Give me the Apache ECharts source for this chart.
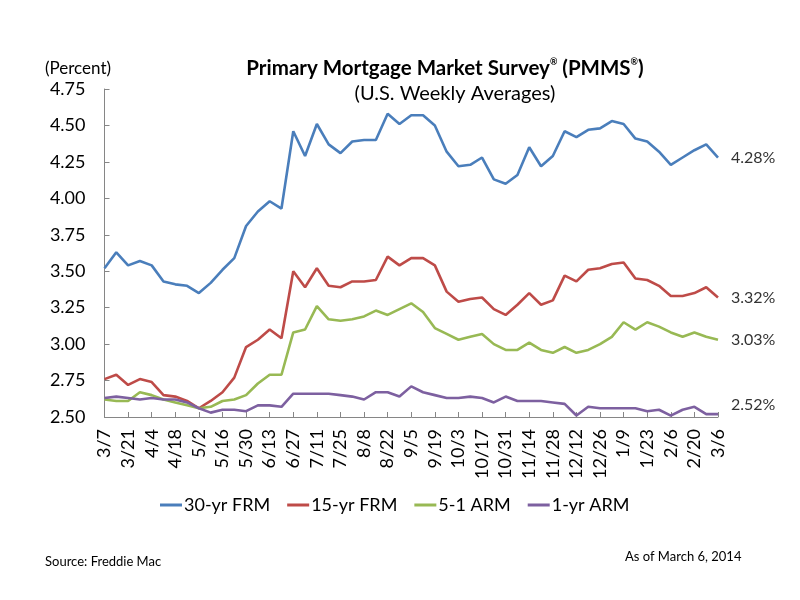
<!DOCTYPE html>
<html>
<head>
<meta charset="utf-8">
<script src="https://cdn.jsdelivr.net/npm/echarts@6/dist/echarts.min.js"></script>
<style>
  html, body { margin: 0; padding: 0; background: #fff; }
  #main { width: 800px; height: 600px; }
</style>
</head>
<body>
<div id="main"></div>
<script>
// weekly dates, 3/7/2013 - 3/6/2014
var weeks = ['3/7','3/14','3/21','3/28','4/4','4/11','4/18','4/25','5/2','5/9',
  '5/16','5/23','5/30','6/6','6/13','6/20','6/27','7/4','7/11','7/18',
  '7/25','8/1','8/8','8/15','8/22','8/29','9/5','9/12','9/19','9/26',
  '10/3','10/10','10/17','10/24','10/31','11/7','11/14','11/21','11/28','12/5',
  '12/12','12/19','12/26','1/2','1/9','1/16','1/23','1/30','2/6','2/13',
  '2/20','2/27','3/6'];

var frm30 = [3.52,3.63,3.54,3.57,3.54,3.43,3.41,3.40,3.35,3.42,
  3.51,3.59,3.81,3.91,3.98,3.93,4.46,4.29,4.51,4.37,
  4.31,4.39,4.40,4.40,4.58,4.51,4.57,4.57,4.50,4.32,
  4.22,4.23,4.28,4.13,4.10,4.16,4.35,4.22,4.29,4.46,
  4.42,4.47,4.48,4.53,4.51,4.41,4.39,4.32,4.23,4.28,
  4.33,4.37,4.28];

var frm15 = [2.76,2.79,2.72,2.76,2.74,2.65,2.64,2.61,2.56,2.61,
  2.67,2.77,2.98,3.03,3.10,3.04,3.50,3.39,3.52,3.40,
  3.39,3.43,3.43,3.44,3.60,3.54,3.59,3.59,3.54,3.36,
  3.29,3.31,3.32,3.24,3.20,3.27,3.35,3.27,3.30,3.47,
  3.43,3.51,3.52,3.55,3.56,3.45,3.44,3.40,3.33,3.33,
  3.35,3.39,3.32];

var arm51 = [2.62,2.61,2.61,2.67,2.65,2.62,2.60,2.58,2.56,2.57,
  2.61,2.62,2.65,2.73,2.79,2.79,3.08,3.10,3.26,3.17,
  3.16,3.17,3.19,3.23,3.20,3.24,3.28,3.22,3.11,3.07,
  3.03,3.05,3.07,3.00,2.96,2.96,3.01,2.96,2.94,2.98,
  2.94,2.96,3.00,3.05,3.15,3.10,3.15,3.12,3.08,3.05,
  3.08,3.05,3.03];

var arm1 = [2.63,2.64,2.63,2.62,2.63,2.62,2.62,2.60,2.56,2.53,
  2.55,2.55,2.54,2.58,2.58,2.57,2.66,2.66,2.66,2.66,
  2.65,2.64,2.62,2.67,2.67,2.64,2.71,2.67,2.65,2.63,
  2.63,2.64,2.63,2.60,2.64,2.61,2.61,2.61,2.60,2.59,
  2.51,2.57,2.56,2.56,2.56,2.56,2.54,2.55,2.51,2.55,
  2.57,2.52,2.52];

var names = ['30-yr FRM','15-yr FRM','5-1 ARM','1-yr ARM'];
var colors = ['#4A7EBB','#BE4B48','#98B954','#7D60A0'];

var font = 'Lato, "Open Sans", sans-serif';

function makeSeries(name, data, color, offset) {
    return {
        name: name,
        type: 'line',
        data: data,
        symbol: 'none',
        lineStyle: { color: color, width: 2.6 },
        itemStyle: { color: color },
        endLabel: {
            show: true,
            distance: 13,
            offset: offset || [0, 0],
            color: '#333',
            fontFamily: font,
            fontSize: 16,
            formatter: function (p) { return p.value.toFixed(2) + '%'; }
        }
    };
}

var myChart = echarts.init(document.getElementById('main'));

var option = {
    animation: false,
    backgroundColor: '#fff',
    color: colors,
    textStyle: { fontFamily: font },
    title: [{
        text: '{b|Primary Mortgage Market Survey}{s|®}{b| (PMMS}{s|®}{b|)}',
        left: 440, top: 53, textAlign: 'center',
        textStyle: {
            rich: {
                b: { fontSize: 20.5, fontWeight: 'bold', color: '#000', fontFamily: font },
                s: { fontSize: 9, color: '#000', fontFamily: font, verticalAlign: 'top', padding: [0, 0, 10, 0] }
            }
        }
    }, {
        text: '(U.S. Weekly Averages)',
        left: 450, top: 79, textAlign: 'center',
        textStyle: { fontSize: 20, fontWeight: 'normal', color: '#000', fontFamily: font }
    }, {
        text: '(Percent)',
        left: 40, top: 55,
        textStyle: { fontSize: 17, fontWeight: 'normal', color: '#000', fontFamily: font }
    }, {
        text: 'Source: Freddie Mac',
        left: 40, top: 550,
        textStyle: { fontSize: 13, fontWeight: 'normal', color: '#000', fontFamily: font }
    }, {
        text: 'As of March 6, 2014',
        left: 620, top: 545,
        textStyle: { fontSize: 13, fontWeight: 'normal', color: '#000', fontFamily: font }
    }],
    legend: {
        data: names,
        left: 155,
        top: 491,
        icon: 'rect',
        itemWidth: 22,
        itemHeight: 3,
        itemGap: 17,
        textStyle: { fontSize: 18, color: '#000', fontFamily: font, padding: [0, 0, 0, -3] }
    },
    grid: { left: 104.5, right: 82, top: 89, bottom: 183 },
    xAxis: {
        type: 'category',
        data: weeks,
        boundaryGap: false,
        axisLine: { lineStyle: { color: '#868686', width: 1 } },
        axisTick: { show: true, inside: true, length: 5, interval: 1, lineStyle: { color: '#868686' } },
        axisLabel: { interval: 1, rotate: 90, margin: 12, fontSize: 18, color: '#000', fontFamily: font }
    },
    yAxis: {
        type: 'value',
        min: 2.5, max: 4.75, interval: 0.25,
        splitLine: { show: false },
        axisLine: { show: true, lineStyle: { color: '#868686', width: 1 } },
        axisTick: { show: true, inside: true, length: 5, lineStyle: { color: '#868686' } },
        axisLabel: {
            margin: 19, fontSize: 18, color: '#000', fontFamily: font,
            formatter: function (v) { return v.toFixed(2); }
        }
    },
    series: [
        makeSeries(names[0], frm30, colors[0]),
        makeSeries(names[1], frm15, colors[1]),
        makeSeries(names[2], arm51, colors[2]),
        makeSeries(names[3], arm1, colors[3], [0, -9])
    ]
};

myChart.setOption(option);
</script>
</body>
</html>
